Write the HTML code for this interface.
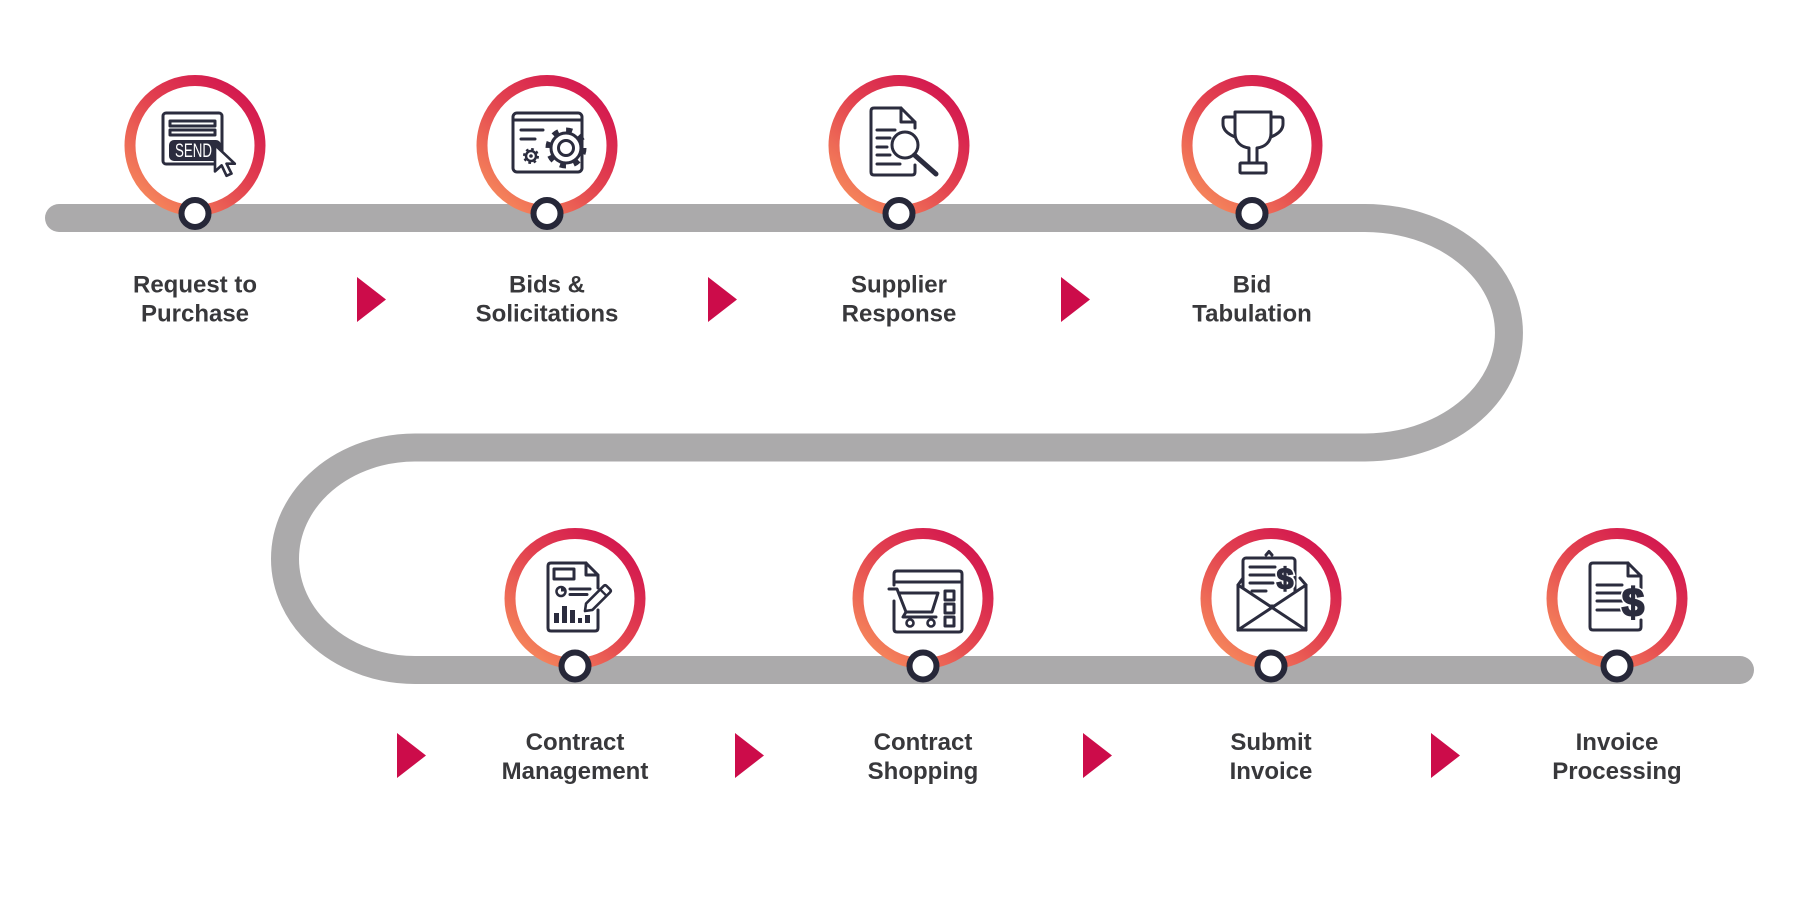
<!DOCTYPE html>
<html><head><meta charset="utf-8"><style>
html,body{margin:0;padding:0;background:#fff;}
svg{display:block;}
.lbl{font-family:"Liberation Sans",Arial,sans-serif;font-weight:bold;font-size:24px;fill:#38383b;text-anchor:middle;}
.ic{fill:none;stroke:#2b2c3e;stroke-width:3;stroke-linecap:round;stroke-linejoin:round;}
</style></head><body>
<svg width="1800" height="900" viewBox="0 0 1800 900" xmlns="http://www.w3.org/2000/svg">
<defs>
<linearGradient id="rg" x1="0.15" y1="0.9" x2="0.85" y2="0.1">
<stop offset="0" stop-color="#f4815a"/>
<stop offset="0.55" stop-color="#e2404f"/>
<stop offset="1" stop-color="#d41a4f"/>
</linearGradient>
</defs>
<!-- track -->
<path d="M59,218 H1365 A144,114.75 0 0 1 1365,447.5 H415 A130,111.25 0 0 0 415,670 H1740" fill="none" stroke="#abaaab" stroke-width="28" stroke-linecap="round"/>

<!-- rings -->
<g fill="#fff" stroke="url(#rg)" stroke-width="11">
<circle cx="195" cy="145.5" r="65"/>
<circle cx="547" cy="145.5" r="65"/>
<circle cx="899" cy="145.5" r="65"/>
<circle cx="1252" cy="145.5" r="65"/>
<circle cx="575" cy="598.5" r="65"/>
<circle cx="923" cy="598.5" r="65"/>
<circle cx="1271" cy="598.5" r="65"/>
<circle cx="1617" cy="598.5" r="65"/>
</g>
<!-- nodes -->
<g fill="#fff" stroke="#262738" stroke-width="6">
<circle cx="195" cy="213.5" r="13.5"/>
<circle cx="547" cy="213.5" r="13.5"/>
<circle cx="899" cy="213.5" r="13.5"/>
<circle cx="1252" cy="213.5" r="13.5"/>
<circle cx="575" cy="666" r="13.5"/>
<circle cx="923" cy="666" r="13.5"/>
<circle cx="1271" cy="666" r="13.5"/>
<circle cx="1617" cy="666" r="13.5"/>
</g>

<!-- triangles -->
<g fill="#cc0c4a">
<polygon points="357,277 386,299.5 357,322"/>
<polygon points="708,277 737,299.5 708,322"/>
<polygon points="1061,277 1090,299.5 1061,322"/>
<polygon points="397,733 426,755.5 397,778"/>
<polygon points="735,733 764,755.5 735,778"/>
<polygon points="1083,733 1112,755.5 1083,778"/>
<polygon points="1431,733 1460,755.5 1431,778"/>
</g>

<!-- labels -->
<text class="lbl" x="195" y="292.5">Request to</text>
<text class="lbl" x="195" y="321.5">Purchase</text>
<text class="lbl" x="547" y="292.5">Bids &amp;</text>
<text class="lbl" x="547" y="321.5">Solicitations</text>
<text class="lbl" x="899" y="292.5">Supplier</text>
<text class="lbl" x="899" y="321.5">Response</text>
<text class="lbl" x="1252" y="292.5">Bid</text>
<text class="lbl" x="1252" y="321.5">Tabulation</text>
<text class="lbl" x="575" y="750">Contract</text>
<text class="lbl" x="575" y="779">Management</text>
<text class="lbl" x="923" y="750">Contract</text>
<text class="lbl" x="923" y="779">Shopping</text>
<text class="lbl" x="1271" y="750">Submit</text>
<text class="lbl" x="1271" y="779">Invoice</text>
<text class="lbl" x="1617" y="750">Invoice</text>
<text class="lbl" x="1617" y="779">Processing</text>

<!-- Icon 1: SEND -->
<rect class="ic" x="163" y="113" width="59" height="51" rx="3" stroke-width="3.5"/>
<rect class="ic" x="170" y="121" width="45" height="5" stroke-width="2"/>
<rect class="ic" x="170" y="130" width="45" height="5" stroke-width="2"/>
<rect x="169" y="140" width="52" height="21" rx="5" fill="#2b2c3e"/>
<text x="175" y="157" font-family="Liberation Sans, Arial, sans-serif" font-size="19" fill="#fff" textLength="37" lengthAdjust="spacingAndGlyphs">SEND</text>
<path d="M0,0 L0,24 L6,18.5 L10.5,28 L15,26 L10.5,17 L18,17 Z" transform="translate(215,145) scale(1.1)" fill="#fff" stroke="#2b2c3e" stroke-width="2.4" stroke-linejoin="round"/>

<!-- Icon 2: Bids -->
<rect class="ic" x="513" y="113" width="69" height="59" rx="4"/>
<line class="ic" x1="513" y1="120" x2="582" y2="120"/>
<line class="ic" x1="521" y1="130" x2="543" y2="130"/>
<line class="ic" x1="521" y1="139" x2="535" y2="139"/>
<circle cx="566" cy="148" r="17.5" fill="none" stroke="#2b2c3e" stroke-width="6" stroke-dasharray="6 7.74"/>
<circle cx="566" cy="148" r="15" fill="#fff" stroke="#2b2c3e" stroke-width="3"/>
<circle cx="566" cy="148" r="7.5" fill="none" stroke="#2b2c3e" stroke-width="3"/>
<circle cx="531" cy="156" r="6.5" fill="none" stroke="#2b2c3e" stroke-width="3" stroke-dasharray="2.5 2.6"/>
<circle cx="531" cy="156" r="5" fill="#fff" stroke="#2b2c3e" stroke-width="2.5"/>
<circle cx="531" cy="156" r="1.8" fill="#2b2c3e"/>

<!-- Icon 3: Supplier response -->
<path class="ic" d="M901,108 H874 Q871,108 871,111 V172 Q871,175 874,175 H912 Q915,175 915,172 V165"/>
<path class="ic" d="M915,128 V122 L901,108 V122 H915"/>
<line class="ic" x1="877" y1="130" x2="895" y2="130"/>
<line class="ic" x1="877" y1="138" x2="890" y2="138"/>
<line class="ic" x1="877" y1="147" x2="887" y2="147"/>
<line class="ic" x1="877" y1="155" x2="890" y2="155"/>
<line class="ic" x1="877" y1="164" x2="900" y2="164"/>
<circle cx="905" cy="145" r="13" fill="#fff" stroke="#2b2c3e" stroke-width="3"/>
<line x1="914.5" y1="155" x2="936" y2="174" stroke="#2b2c3e" stroke-width="5" stroke-linecap="round"/>

<!-- Icon 4: Trophy -->
<path class="ic" d="M1235,112 H1271 V133 C1271,142 1265,147 1257,148 V163 H1249 V148 C1241,147 1235,142 1235,133 Z"/>
<path class="ic" d="M1235,117 H1226 Q1223,117 1223,120 V124 Q1223,132 1235,137"/>
<path class="ic" d="M1271,117 H1280 Q1283,117 1283,120 V124 Q1283,132 1271,137"/>
<rect class="ic" x="1240" y="163" width="26" height="10" rx="1"/>

<!-- Icon 5: Contract management -->
<path class="ic" d="M586,563 H551 Q548,563 548,566 V628 Q548,631 551,631 H595 Q598,631 598,628 V610"/>
<path class="ic" d="M598,588 V575 L586,563 V575 H598"/>
<rect class="ic" x="554" y="569" width="20" height="10" stroke-width="2.5"/>
<circle cx="561" cy="591.5" r="4.5" fill="none" stroke="#2b2c3e" stroke-width="2.5"/>
<path d="M561,591.5 V587 A4.5,4.5 0 0 1 565.5,591.5 Z" fill="#2b2c3e"/>
<line class="ic" x1="570" y1="589" x2="590" y2="589" stroke-width="2.5"/>
<line class="ic" x1="570" y1="594.5" x2="587" y2="594.5" stroke-width="2.5"/>
<g fill="#2b2c3e">
<rect x="554" y="613" width="5" height="10"/>
<rect x="562" y="606" width="5" height="17"/>
<rect x="570" y="610" width="5" height="13"/>
<rect x="578" y="618" width="4" height="5"/>
<rect x="585" y="615" width="5" height="8"/>
</g>
<g transform="translate(597,599) rotate(-45)">
<path d="M-17,0 L-11,-4.5 H14 Q16,-4.5 16,-2.5 V2.5 Q16,4.5 14,4.5 H-11 Z" fill="#fff" stroke="#2b2c3e" stroke-width="2.6" stroke-linejoin="round"/>
<line x1="9" y1="-4.5" x2="9" y2="4.5" stroke="#2b2c3e" stroke-width="2.4"/>
</g>

<!-- Icon 6: Cart -->
<path class="ic" d="M894,585 V574 Q894,571 897,571 H959 Q962,571 962,574 V629 Q962,632 959,632 H897 Q894,632 894,629 V601"/>
<line class="ic" x1="894" y1="582" x2="962" y2="582"/>
<path class="ic" d="M889,589 H897 L906,612 H932 L938,593 H900"/>
<path class="ic" d="M906,612 L903,617 H936"/>
<circle cx="910" cy="623" r="3.5" fill="#fff" stroke="#2b2c3e" stroke-width="2.6"/>
<circle cx="931" cy="623" r="3.5" fill="#fff" stroke="#2b2c3e" stroke-width="2.6"/>
<rect class="ic" x="945" y="591" width="9" height="9" stroke-width="2.5"/>
<rect class="ic" x="945" y="604" width="9" height="9" stroke-width="2.5"/>
<rect class="ic" x="945" y="617" width="9" height="9" stroke-width="2.5"/>

<!-- Icon 7: Envelope with invoice -->
<path class="ic" d="M1266,555 L1269,551.5 L1272,555" stroke-width="2.5"/>
<rect x="1243" y="558" width="52" height="48" rx="3" fill="#fff" stroke="#2b2c3e" stroke-width="3"/>
<line class="ic" x1="1250" y1="567" x2="1275" y2="567"/>
<line class="ic" x1="1250" y1="575" x2="1279" y2="575"/>
<line class="ic" x1="1250" y1="583" x2="1273" y2="583"/>
<line class="ic" x1="1252" y1="591" x2="1266" y2="591"/>
<text x="1285" y="589" font-family="Liberation Sans, Arial, sans-serif" font-weight="bold" font-size="30" fill="#fff" text-anchor="middle" stroke="#fff" stroke-width="5">$</text>
<text x="1285" y="589" font-family="Liberation Sans, Arial, sans-serif" font-weight="bold" font-size="30" fill="#2b2c3e" text-anchor="middle" stroke="#2b2c3e" stroke-width="1.6">$</text>
<path d="M1238,585 L1272,607.5 L1306,585 V630 H1238 Z" fill="#fff" stroke="#2b2c3e" stroke-width="3" stroke-linejoin="round"/>
<path class="ic" d="M1238,585 L1243,578 M1306,585 L1300,578"/>
<line class="ic" x1="1238" y1="630" x2="1272" y2="607.5"/>
<line class="ic" x1="1306" y1="630" x2="1272" y2="607.5"/>

<!-- Icon 8: Invoice doc -->
<path class="ic" d="M1628,563 H1593 Q1590,563 1590,566 V627 Q1590,630 1593,630 H1638 Q1641,630 1641,627 V620"/>
<path class="ic" d="M1641,588 V576 L1628,563 V576 H1641"/>
<line class="ic" x1="1597" y1="585" x2="1622" y2="585"/>
<line class="ic" x1="1597" y1="593" x2="1622" y2="593"/>
<line class="ic" x1="1597" y1="601" x2="1622" y2="601"/>
<line class="ic" x1="1597" y1="610" x2="1622" y2="610"/>
<text x="1633" y="616" font-family="Liberation Sans, Arial, sans-serif" font-weight="bold" font-size="40" fill="#fff" text-anchor="middle" stroke="#fff" stroke-width="5">$</text>
<text x="1633" y="616" font-family="Liberation Sans, Arial, sans-serif" font-weight="bold" font-size="40" fill="#2b2c3e" text-anchor="middle" stroke="#2b2c3e" stroke-width="2">$</text>
</svg>
</body></html>
